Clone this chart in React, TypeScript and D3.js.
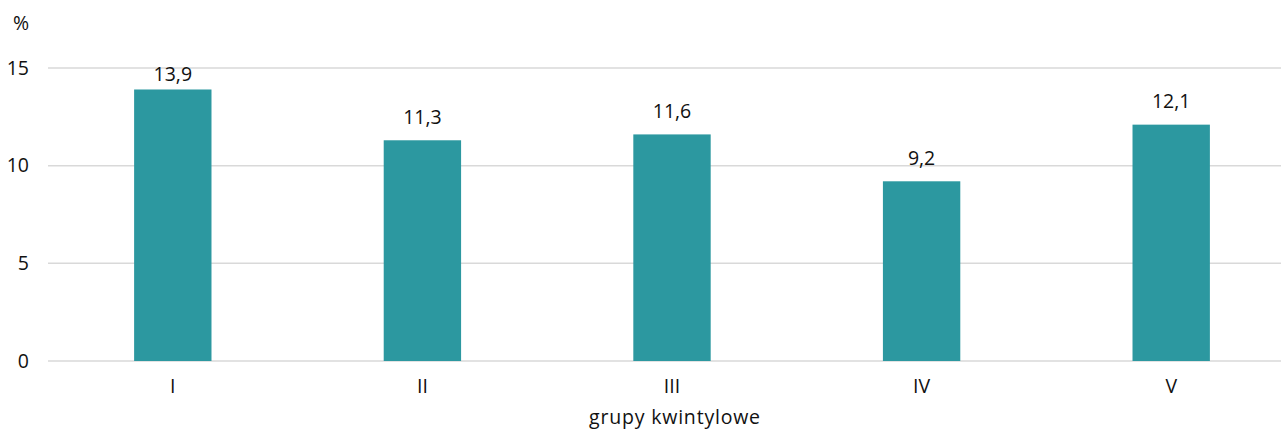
import React from "react";
import * as d3 from "d3";

const categories = ["I", "II", "III", "IV", "V"];
const values = [13.9, 11.3, 11.6, 9.2, 12.1];
const yTicks = [0, 5, 10, 15];

const W = 1281;
const H = 431;

export default function App() {
  const x = d3
    .scaleBand<string>()
    .domain(categories)
    .range([48, 1296])
    .paddingInner(0.69)
    .paddingOuter(0.345);
  const y = d3.scaleLinear().domain([0, 15]).range([361, 68]);
  const fmt = (v: number) => v.toFixed(1).replace(".", ",");
  const font = "'Open Sans', 'Noto Sans', sans-serif";
  const ink = "#111";
  const labelY = (v: number) => Math.max(y(15) + 13, y(v) - 16.5);

  return (
    <svg
      width={W}
      height={H}
      style={{ position: "absolute", left: 0, top: 0, fontFamily: font }}
      fontSize={19.5}
    >
      <rect width={W} height={H} fill="#fff" />
      {yTicks.map((t) => (
        <g key={t}>
          <line x1={48} x2={W} y1={y(t)} y2={y(t)} stroke="#d9d9d9" strokeWidth={1.5} />
          <text x={29} y={y(t) + 6.5} textAnchor="end" fill={ink}>
            {t}
          </text>
        </g>
      ))}
      <text x={13} y={30} fill={ink}>
        %
      </text>
      {categories.map((c, i) => (
        <g key={c}>
          <rect
            x={x(c)}
            y={y(values[i])}
            width={x.bandwidth()}
            height={y(0) - y(values[i])}
            fill="#2c98a0"
          />
          <text
            x={(x(c) as number) + x.bandwidth() / 2}
            y={labelY(values[i])}
            textAnchor="middle"
            fill={ink}
          >
            {fmt(values[i])}
          </text>
          <text
            x={(x(c) as number) + x.bandwidth() / 2}
            y={393}
            textAnchor="middle"
            fill={ink}
          >
            {c}
          </text>
        </g>
      ))}
      <text x={675} y={424} textAnchor="middle" fill={ink} letterSpacing={0.8}>
        grupy kwintylowe
      </text>
    </svg>
  );
}
